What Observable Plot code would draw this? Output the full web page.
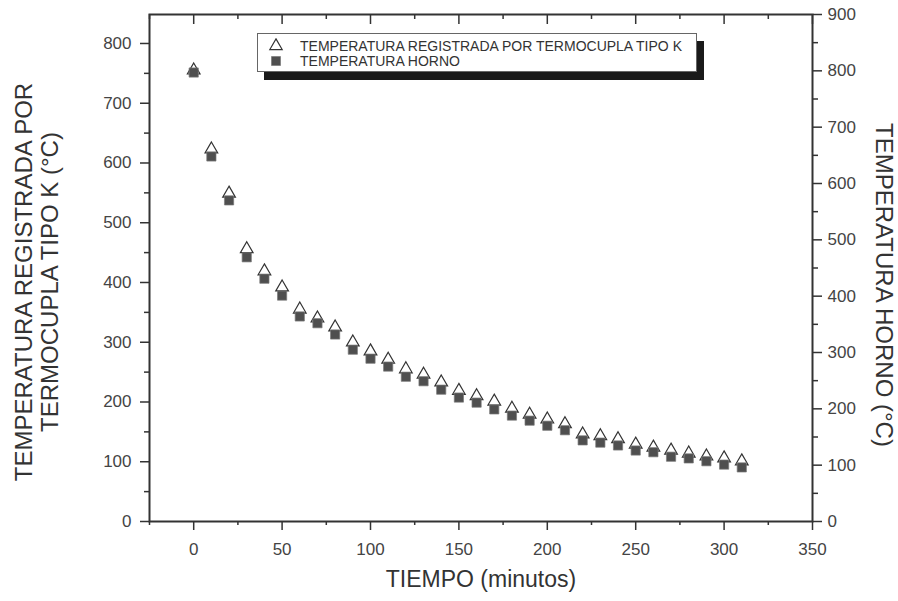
<!DOCTYPE html>
<html>
<head>
<meta charset="utf-8">
<script src="https://cdn.jsdelivr.net/npm/d3@7"></script>
<script src="https://cdn.jsdelivr.net/npm/@observablehq/plot@0.6"></script>
<style>
  body { margin: 0; background: #fff; }
  #wrap { position: relative; width: 898px; height: 601px; font-family: "Liberation Sans", Arial, sans-serif; }
  #legend { position: absolute; left: 257px; top: 33px; width: 438px; height: 37px; border: 1px solid #666; background: #fff; box-shadow: 7px 8px 0 #1a1a1a; }
  #legend .row { position: absolute; left: 0; height: 16px; display: flex; align-items: center; }
  #legend svg { position: absolute; left: 10px; }
  #legend span { position: absolute; left: 42px; white-space: nowrap; font-size: 14px; color: #333; line-height: 16px; }
</style>
</head>
<body>
<div id="wrap"></div>
<script>
// ---- data ----
const tiempo = [0, 10, 20, 30, 40, 50, 60, 70, 80, 90, 100, 110, 120, 130, 140, 150,
                160, 170, 180, 190, 200, 210, 220, 230, 240, 250, 260, 270, 280, 290, 300, 310];
// left axis (°C)
const tempTermocupla = [755, 623, 549, 456, 419, 392, 355, 340, 325, 300, 285, 271, 255, 246, 233, 219,
                        210, 201, 189, 179, 171, 163, 146, 143, 138, 129, 124, 119, 114, 109, 106, 101];
// right axis (°C)
const tempHorno = [797, 648, 570, 469, 431, 401, 364, 352, 332, 305, 289, 275, 257, 249, 234, 220,
                   211, 199, 188, 179, 170, 162, 144, 140, 135, 126, 123, 115, 112, 107, 101, 96];
const seriesNames = ["TEMPERATURA REGISTRADA POR TERMOCUPLA TIPO K", "TEMPERATURA HORNO"];
const xTicks = [0, 50, 100, 150, 200, 250, 300, 350];
const xMinorTicks = [-25, 25, 75, 125, 175, 225, 275, 325];
const yLeftTicks = [0, 100, 200, 300, 400, 500, 600, 700, 800];
const yLeftMinorTicks = [50, 150, 250, 350, 450, 550, 650, 750];
const yRightTicks = [0, 100, 200, 300, 400, 500, 600, 700, 800, 900];
const yRightMinorTicks = [50, 150, 250, 350, 450, 550, 650, 750, 850];
const xTitle = "TIEMPO (minutos)";
const yLeftTitle = "TEMPERATURA REGISTRADA POR\nTERMOCUPLA TIPO K (°C)";
const yRightTitle = "TEMPERATURA HORNO (°C)";
const xDomain = [-25, 350];
const yLeftMax = 848.5;
const yRightMax = 900;

// ---- chart ----
const k = yLeftMax / yRightMax; // right-axis value -> left-axis units
const W = 898, H = 601, mL = 149, mR = 86, mT = 14, mB = 80;
const frameH = H - mT - mB;
const ink = "#333";
const labelColor = "#444";

const chart = Plot.plot({
  width: W, height: H,
  marginLeft: mL, marginRight: mR, marginTop: mT, marginBottom: mB,
  x: {domain: xDomain},
  y: {domain: [0, yLeftMax]},
  style: {fontFamily: '"Liberation Sans", Arial, sans-serif', fontSize: "17px", background: "#fff", overflow: "visible"},
  marks: [
    // bottom axis
    Plot.axisX(xTicks, {anchor: "bottom", tickSize: 9, tickPadding: 12, label: null, stroke: ink, fill: labelColor, strokeWidth: 1.5, fontSize: 17}),
    Plot.axisX(xMinorTicks, {anchor: "bottom", tickSize: 4, tickFormat: () => "", label: null, stroke: ink, strokeWidth: 1.5}),
    // top inward ticks
    Plot.tickX(xTicks, {x: d => d, insetBottom: frameH - 10, stroke: ink, strokeWidth: 1.5}),
    Plot.tickX(xMinorTicks, {x: d => d, insetBottom: frameH - 5, stroke: ink, strokeWidth: 1.5}),
    // left axis
    Plot.axisY(yLeftTicks, {anchor: "left", tickSize: 9, tickPadding: 9, label: null, stroke: ink, fill: labelColor, strokeWidth: 1.5, fontSize: 17}),
    Plot.axisY(yLeftMinorTicks, {anchor: "left", tickSize: 5, tickFormat: () => "", label: null, stroke: ink, strokeWidth: 1.5}),
    // right axis (different scale)
    Plot.axisY(yRightTicks.map(v => v * k), {anchor: "right", tickSize: 9, tickPadding: 6, tickFormat: d => String(Math.round(d / k)), label: null, stroke: ink, fill: labelColor, strokeWidth: 1.5, fontSize: 17}),
    Plot.axisY(yRightMinorTicks.map(v => v * k), {anchor: "right", tickSize: 5, tickFormat: () => "", label: null, stroke: ink, strokeWidth: 1.5}),
    Plot.frame({stroke: ink, strokeWidth: 2}),
    // data
    Plot.dot(tiempo, {x: d => d, y: (d, i) => tempTermocupla[i], symbol: "triangle", r: 4.7, fill: "white", stroke: ink, strokeWidth: 1.2}),
    Plot.dot(tiempo, {x: d => d, y: (d, i) => tempHorno[i] * k, symbol: "square", r: 5.2, fill: "#4f4f4f", stroke: "#7a7a7a", strokeWidth: 0.7}),
    // titles
    Plot.text([xTitle], {frameAnchor: "bottom", dy: 65, fontSize: 23, fill: ink}),
    Plot.text([yLeftTitle], {frameAnchor: "left", textAnchor: "middle", rotate: -90, dx: -113, dy: 14, fontSize: 24, lineHeight: 1.08, fill: ink}),
    Plot.text([yRightTitle], {frameAnchor: "right", textAnchor: "middle", rotate: 90, dx: 71, dy: 17, fontSize: 24, fill: ink})
  ]
});

const wrap = document.getElementById("wrap");
wrap.appendChild(chart);

// legend overlay
const legend = document.createElement("div");
legend.id = "legend";
const symbols = [
  {type: d3.symbolTriangle, size: 66, fill: "white", stroke: ink, sw: 1.2},
  {type: d3.symbolSquare, size: 81, fill: "#4f4f4f", stroke: "#7a7a7a", sw: 0.7}
];
seriesNames.forEach((name, i) => {
  const row = document.createElement("div");
  row.className = "row";
  row.style.top = (4 + i * 15) + "px";
  const s = symbols[i];
  const path = d3.symbol(s.type, s.size)();
  row.innerHTML = `<svg width="16" height="16" viewBox="-8 -8 16 16"><path d="${path}" fill="${s.fill}" stroke="${s.stroke}" stroke-width="${s.sw}"/></svg><span>${name}</span>`;
  legend.appendChild(row);
});
wrap.appendChild(legend);
</script>
</body>
</html>
